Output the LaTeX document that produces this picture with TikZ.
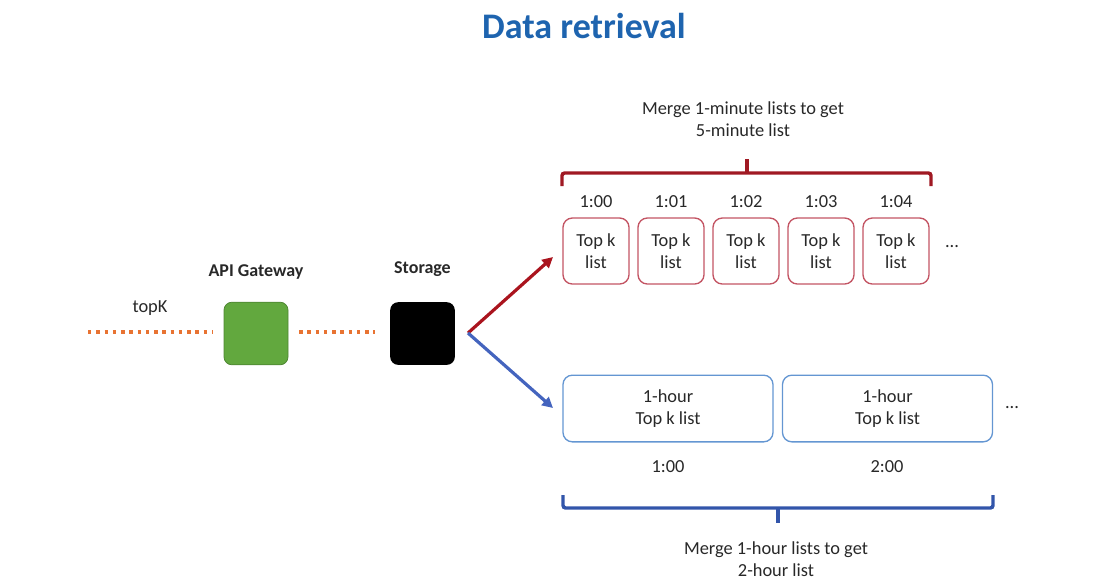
\documentclass[tikz,border=0pt]{standalone}
\usepackage{fontspec}
\setmainfont{Carlito}
\usetikzlibrary{arrows.meta}
\definecolor{titleblue}{RGB}{30,100,175}
\definecolor{dotorange}{RGB}{232,115,50}
\definecolor{gwgreen}{RGB}{98,168,62}
\definecolor{boxred}{RGB}{195,85,100}
\definecolor{bracered}{RGB}{160,25,35}
\definecolor{arrowred}{RGB}{170,20,30}
\definecolor{arrowblue}{RGB}{68,100,190}
\definecolor{boxblue}{RGB}{100,150,210}
\definecolor{braceblue}{RGB}{50,85,170}
\definecolor{txt}{RGB}{40,40,40}
\tikzset{
  lbl/.style={font=\fontsize{13.8}{16.5}\selectfont, text=txt, inner sep=0pt, align=center},
  blbl/.style={font=\fontsize{13.5}{16}\selectfont\bfseries, text=txt, inner sep=0pt},
  dotline/.style={dotorange, line width=3pt, dash pattern=on 2.6pt off 3.6pt},
  minibox/.style={draw=boxred, line width=1pt, rounded corners=7pt, minimum width=49.5pt, minimum height=49.5pt, inner sep=0pt, lbl},
  hourbox/.style={draw=boxblue, line width=1pt, rounded corners=7pt, minimum width=157.5pt, minimum height=50pt, inner sep=0pt, lbl},
  brace/.style={line width=2.6pt, rounded corners=2pt},
}
\begin{document}
\begin{tikzpicture}[x=0.75pt,y=-0.75pt]
\useasboundingbox (0,0) rectangle (1107,587);
\node[font=\fontsize{27}{30}\selectfont\bfseries, text=titleblue, inner sep=0pt] (title) at (584,26) {Data retrieval};

% left part
\node[lbl] (topk) at (150,308) {topK};
\coordinate (in) at (88,332);
\node[draw=gwgreen!80!black, fill=gwgreen, rounded corners=6pt, minimum width=48pt, minimum height=47pt, inner sep=0pt, line width=0.6pt] (gw) at (256,333.5) {};
\node[blbl] (gwl) at (256,272) {API Gateway};
\node[fill=black, rounded corners=6pt, minimum width=48.5pt, minimum height=47pt, inner sep=0pt] (st) at (422.5,333.5) {};
\node[blbl] (stl) at (422.5,269) {Storage};
\draw[dotline] (in) -- ([xshift=-8pt]gw.west |- in);
\draw[dotline] ([xshift=8pt]gw.east |- in) -- ([xshift=-11pt]st.west |- in);

% arrows
\coordinate (fork) at (468,333);
\coordinate (redtip) at (553,257);
\coordinate (bluetip) at (553,408);
\draw[arrowred, line width=2.4pt, -{Triangle[length=8pt,width=8pt]}] (fork) -- (redtip);
\draw[arrowblue, line width=2.4pt, -{Triangle[length=8pt,width=8pt]}] (fork) -- (bluetip);

% minute lists
\foreach \i/\t in {0/1:00,1/1:01,2/1:02,3/1:03,4/1:04}{
  \node[minibox] (m\i) at (596+75*\i,251) {Top k\\list};
  \node[lbl] (mt\i) at (596+75*\i,202) {\t};
}
\node[lbl] (mdots) at (952,247) {...};
\draw[bracered, brace] (562,186) -- (562,173) -- (931,173) -- (931,186);
\draw[bracered, line width=2.6pt] (747,174) -- (747,159);
\node[lbl] (mmerge) at (743,119) {Merge 1-minute lists to get\\5-minute list};

% hour lists
\node[hourbox] (h0) at (668,408.5) {1-hour\\Top k list};
\node[hourbox] (h1) at (887.5,408.5) {1-hour\\Top k list};
\node[lbl] (hdots) at (1012,408) {...};
\node[lbl] (ht0) at (668,467) {1:00};
\node[lbl] (ht1) at (887,467) {2:00};
\draw[braceblue, brace] (563,495) -- (563,508) -- (993,508) -- (993,495);
\draw[braceblue, line width=2.6pt] (778,507) -- (778,523);
\node[lbl] (hmerge) at (776,559) {Merge 1-hour lists to get\\2-hour list};
\end{tikzpicture}
\end{document}
